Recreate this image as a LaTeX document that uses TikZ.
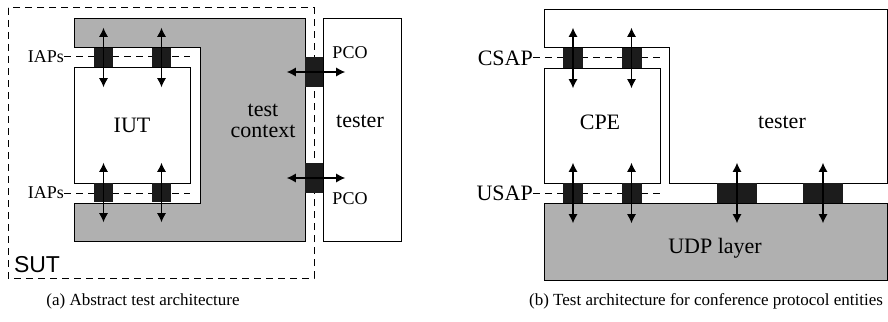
\documentclass[tikz,border=0pt]{standalone}
\usepackage{fontspec}
\setmainfont{Liberation Serif}
\setsansfont{Liberation Sans}
\usetikzlibrary{positioning,arrows.meta}
\definecolor{ctxgray}{RGB}{176,176,176}
\definecolor{portblack}{RGB}{28,28,28}

\begin{document}
\begin{tikzpicture}[x=1pt, y=-1pt,
  every node/.style={font=\fontsize{22}{25}\selectfont, inner sep=0pt},
  box/.style={rectangle, draw, fill=white, line width=1pt},
  port/.style={rectangle, fill=portblack, minimum width=19pt, minimum height=19pt},
  sap/.style={font=\fontsize{18}{20}\selectfont},
  arr/.style={{Latex[length=9pt,width=9pt]}-{Latex[length=9pt,width=9pt]}, line width=1.1pt},
  link/.style={dash pattern=on 7pt off 5pt, line width=1pt},
  subcap/.style={font=\fontsize{17}{19}\selectfont}
]
  \useasboundingbox (0,0) rectangle (888,321);

  % (a) abstract test architecture
  \draw[link] (8,8) rectangle (314,278);
  \draw[line width=1pt, fill=ctxgray] (74,19) -- (305,19) -- (305,241) -- (74,241)
    -- (74,203) -- (200,203) -- (200,48) -- (74,48) -- cycle;
  \node[box, minimum width=116pt, minimum height=116pt] (iut) at (132,125) {IUT};
  \node[box, minimum width=78pt, minimum height=222pt] (testerA) at (362,130) {};
  \node at (360,121) (testerAlbl) {tester};
  \node[align=center, font=\fontsize{22}{21}\selectfont] (ctx) at (263,121) {test\\context};
  \node[font=\sffamily\fontsize{23}{25}\selectfont] (sut) at (37,265) {SUT};

  \node[sap, anchor=east] (iapA) at (64,57) {IAPs};
  \node[sap, anchor=east] (iapB) at (64,193) {IAPs};
  \coordinate (iapAend) at (190,57);
  \coordinate (iapBend) at (190,193);
  \draw[link] (iapA.east) -- (iapAend);
  \draw[link] (iapB.east) -- (iapBend);

  \node[port] (ia1) at (103.5,57.5) {};
  \node[port] (ia2) at (161.5,57.5) {};
  \node[port] (ib1) at (103.5,192.5) {};
  \node[port] (ib2) at (161.5,192.5) {};
  \foreach \p in {ia1,ia2,ib1,ib2}
    \draw[arr] ([yshift=20pt]\p.north) -- ([yshift=-20pt]\p.south);

  \node[port, minimum width=18pt, minimum height=30pt] (pcoA) at (314,72) {};
  \node[port, minimum width=18pt, minimum height=30pt] (pcoB) at (314,178) {};
  \foreach \p in {pcoA,pcoB}
    \draw[arr] ([xshift=-18pt]\p.west) -- ([xshift=22pt]\p.east);
  \node[sap] (pcoAlbl) at (350,53) {PCO};
  \node[sap] (pcoBlbl) at (350,199) {PCO};

  \node[subcap] (capA) at (143,301) {(a) Abstract test architecture};

  % (b) conference protocol entities
  \draw[line width=1pt, fill=white] (544,10) -- (887,10) -- (887,183) -- (669,183)
    -- (669,48) -- (544,48) -- cycle;
  \draw[line width=1pt, fill=ctxgray] (544,203) rectangle (887,280);
  \node[box, minimum width=116pt, minimum height=115pt] (cpe) at (602,125.5) {};
  \node (cpelbl) at (600,122) {CPE};
  \node (testerB) at (782,122) {tester};
  \node (udp) at (715,248) {UDP layer};

  \node[anchor=east] (csap) at (533,58) {CSAP};
  \node[anchor=east] (usap) at (533,193) {USAP};
  \coordinate (csapend) at (660,58);
  \coordinate (usapend) at (660,193);
  \draw[link] (csap.east) -- (csapend);
  \draw[link] (usap.east) -- (usapend);

  \node[port, minimum width=20pt, minimum height=20pt] (c1) at (573,58) {};
  \node[port, minimum width=20pt, minimum height=20pt] (c2) at (631.5,58) {};
  \node[port, minimum width=20pt, minimum height=20pt] (u1) at (573,193) {};
  \node[port, minimum width=20pt, minimum height=20pt] (u2) at (631.5,193) {};
  \node[port, minimum width=40pt, minimum height=20pt] (t1) at (737,193) {};
  \node[port, minimum width=40pt, minimum height=20pt] (t2) at (823,193) {};
  \foreach \p in {c1,c2,u1,u2,t1,t2}
    \draw[arr] ([yshift=20pt]\p.north) -- ([yshift=-20pt]\p.south);

  \node[subcap] (capB) at (706,301) {(b) Test architecture for conference protocol entities};
\end{tikzpicture}
\end{document}
